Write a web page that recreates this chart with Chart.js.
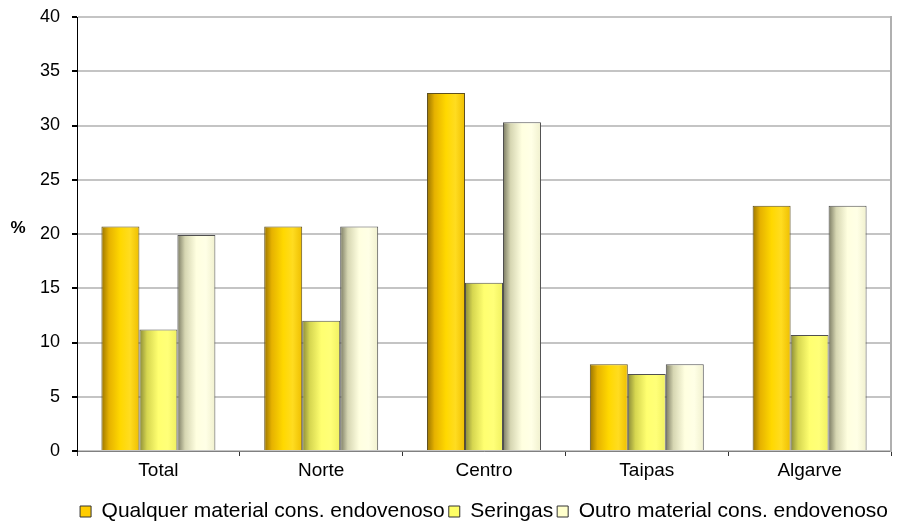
<!DOCTYPE html>
<html>
<head>
<meta charset="utf-8">
<script src="https://cdn.jsdelivr.net/npm/chart.js@4/dist/chart.umd.min.js"></script>
<style>
html,body{margin:0;padding:0;background:#fff;}
#wrap{width:908px;height:524px;position:relative;}
</style>
</head>
<body>
<div id="wrap"><canvas id="c" width="908" height="524"></canvas></div>
<script>
const categories = ['Total', 'Norte', 'Centro', 'Taipas', 'Algarve'];
const seriesNames = ['Qualquer material cons. endovenoso', 'Seringas', 'Outro material cons. endovenoso'];
const qualquer = [20.7, 20.7, 33.0, 8.0, 22.6];
const seringas = [11.2, 12.0, 15.5, 7.1, 10.7];
const outro = [19.9, 20.7, 30.3, 8.0, 22.6];
const yTicks = [0, 5, 10, 15, 20, 25, 30, 35, 40];

const FONT = "'Liberation Sans', Arial, sans-serif";
const CAT_PCT = 0.7;

const palettes = [
  { flat: '#ffcc00', stops: ['#9a7400', '#e6b200', '#ffd800', '#ffdc20', '#eebe00'] },
  { flat: '#ffff66', stops: ['#8a8a38', '#d6d650', '#ffff70', '#ffff78', '#f0f060'] },
  { flat: '#ffffcc', stops: ['#7a7a62', '#d6d6b2', '#ffffe0', '#ffffe6', '#f0f0ce'] }
];

function gradFor(ctx) {
  const chart = ctx.chart;
  const p = palettes[ctx.datasetIndex];
  const xs = chart.scales && chart.scales.x;
  if (!xs || ctx.dataIndex === undefined || !chart.chartArea) return p.flat;
  const center = xs.getPixelForValue(ctx.dataIndex);
  const catW = (xs.right - xs.left) / categories.length;
  const groupW = catW * CAT_PCT;
  const barW = groupW / 3;
  const left = center - groupW / 2 + ctx.datasetIndex * barW;
  const g = chart.ctx.createLinearGradient(left, 0, left + barW, 0);
  g.addColorStop(0, p.stops[0]);
  g.addColorStop(0.2, p.stops[1]);
  g.addColorStop(0.5, p.stops[2]);
  g.addColorStop(0.75, p.stops[3]);
  g.addColorStop(1, p.stops[4]);
  return g;
}

const pctLabel = {
  id: 'pctLabel',
  afterDraw(chart) {
    const c = chart.ctx;
    c.save();
    c.font = "bold 17px 'Liberation Sans', Arial, sans-serif";
    c.fillStyle = '#000';
    c.textAlign = 'center';
    c.textBaseline = 'middle';
    c.fillText('%', 18, 228);
    c.restore();
  }
};

const datasets = [qualquer, seringas, outro].map((d, i) => ({
  label: seriesNames[i],
  data: d,
  backgroundColor: gradFor,
  borderColor: i === 0 ? '#5e5020' : '#505050',
  borderWidth: 1,
  borderSkipped: 'bottom',
  categoryPercentage: CAT_PCT,
  barPercentage: 1.0
}));

new Chart(document.getElementById('c'), {
  type: 'bar',
  data: { labels: categories, datasets },
  options: {
    responsive: false,
    animation: false,
    devicePixelRatio: 1,
    layout: { padding: { left: 0, right: 16, top: 17, bottom: -8 } },
    plugins: {
      legend: {
        position: 'bottom',
        align: 'end',
        labels: {
          font: { family: FONT, size: 21 },
          color: '#000',
          boxWidth: 11,
          boxHeight: 11,
          padding: 4,
          generateLabels(chart) {
            return seriesNames.map((n, i) => ({
              text: n,
              fillStyle: palettes[i].flat,
              strokeStyle: '#333',
              lineWidth: 1,
              datasetIndex: i,
              fontColor: '#000'
            }));
          }
        }
      },
      tooltip: { enabled: false },
      title: { display: false }
    },
    scales: {
      x: {
        offset: true,
        afterFit(scale) { scale.height = 46; },
        grid: { display: true, drawOnChartArea: false, drawTicks: true, tickLength: 5, tickColor: '#333', offset: true },
        border: { display: true, color: '#808080', width: 1 },
        ticks: { font: { family: FONT, size: 19 }, color: '#000', padding: 3 }
      },
      y: {
        min: 0,
        max: 40,
        afterBuildTicks(scale) { scale.ticks = yTicks.map(v => ({ value: v })); },
        afterFit(scale) { scale.width = 77; scale.paddingTop = 0; scale.paddingBottom = 0; },
        grid: { color: '#c4c4c4', lineWidth: 2, tickColor: '#000', tickLength: 5 },
        border: { display: true, color: '#000', width: 1 },
        ticks: { font: { family: FONT, size: 18 }, color: '#000', padding: 12 }
      },
      yr: {
        position: 'right',
        min: 0,
        max: 40,
        grid: { display: false },
        ticks: { display: false },
        border: { display: true, color: '#b0b0b0', width: 2 },
        afterFit(scale) { scale.width = 1; scale.paddingTop = 0; scale.paddingBottom = 0; }
      }
    }
  },
  plugins: [pctLabel]
});
</script>
</body>
</html>
